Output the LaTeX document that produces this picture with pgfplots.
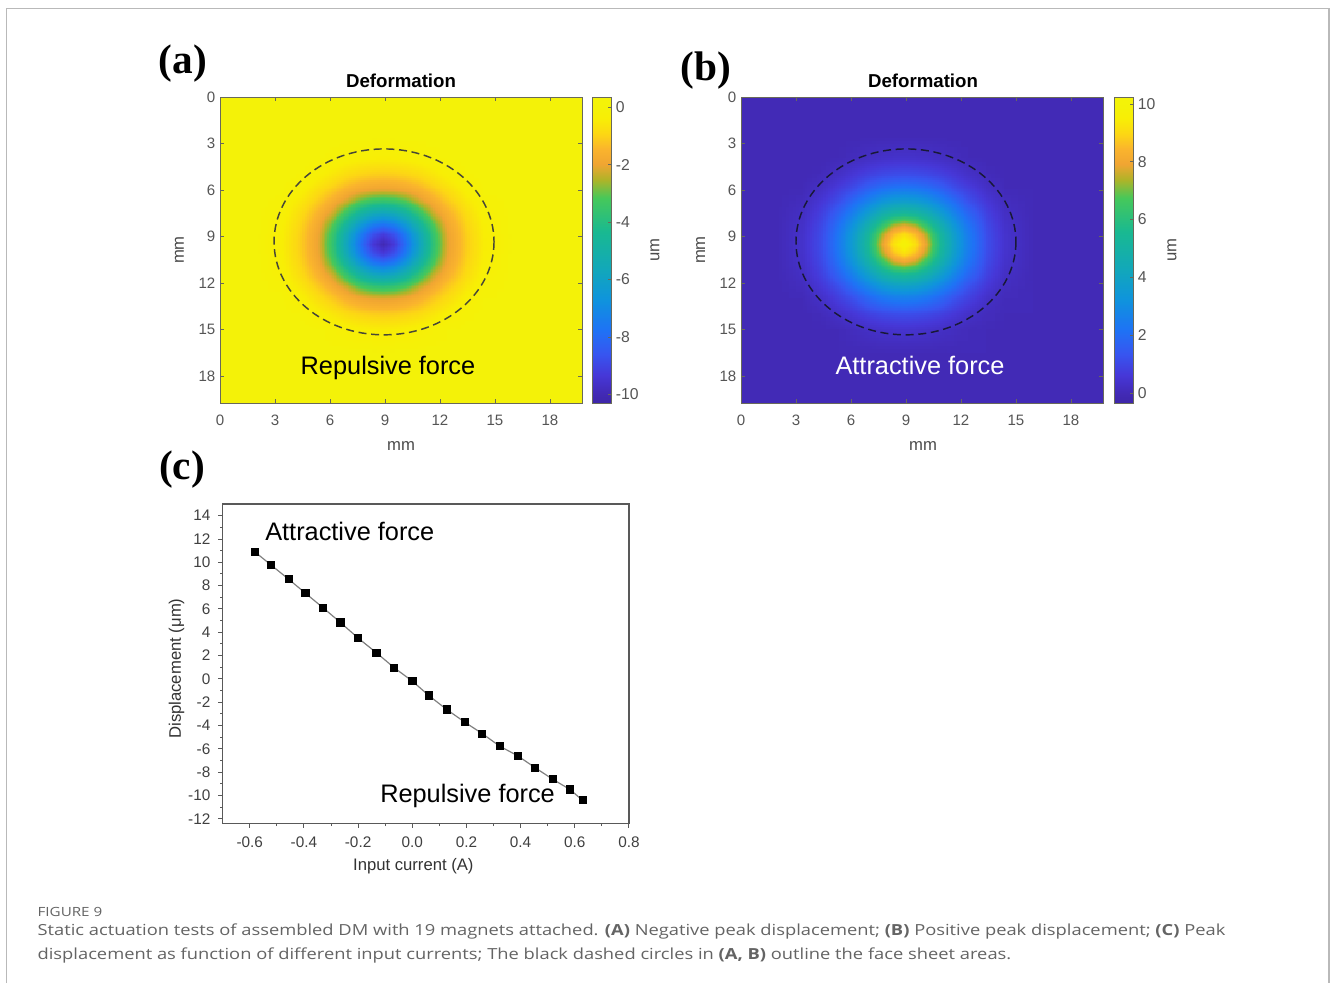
\documentclass[border=0pt]{standalone}
\usepackage{fontspec}
\setmainfont{Liberation Sans}
\newfontfamily\serifb{Liberation Serif}
\newfontfamily\capfont[FakeStretch=1.2]{Open Sans}
\usepackage{pgfplots}
\usepackage{pgfplotstable}
\usepgfplotslibrary{patchplots}
\pgfplotsset{compat=1.18, /pgf/number format/assume math mode=true}

\definecolor{bgA}{RGB}{244,242,8}
\definecolor{bgB}{RGB}{66,42,182}
\definecolor{tickgray}{RGB}{85,85,85}
\definecolor{labgray}{RGB}{75,75,75}
\definecolor{framegray}{RGB}{185,185,185}
\definecolor{capgray}{RGB}{100,100,100}
\definecolor{boxcol}{RGB}{105,105,90}
\definecolor{circA}{RGB}{70,70,55}
\definecolor{circB}{RGB}{25,25,55}

\pgfplotsset{
 colormap={myparula}{
  rgb255(0pt)=(62,38,168)
  rgb255(33pt)=(66,42,182)
  rgb255(90pt)=(70,55,215)
  rgb255(160pt)=(55,85,240)
  rgb255(240pt)=(30,115,245)
  rgb255(340pt)=(15,148,220)
  rgb255(440pt)=(18,168,185)
  rgb255(560pt)=(25,185,145)
  rgb255(670pt)=(70,200,90)
  rgb255(730pt)=(175,180,40)
  rgb255(780pt)=(240,165,50)
  rgb255(830pt)=(250,180,45)
  rgb255(880pt)=(252,215,20)
  rgb255(930pt)=(248,238,5)
  rgb255(967pt)=(244,242,8)
  rgb255(1000pt)=(244,244,8)
 },
 heat/.style={
  anchor=north west, scale only axis, width=271.5pt, height=229.5pt,
  xmin=0, xmax=19.75, ymin=0, ymax=19.75, y dir=reverse,
  xtick={0,3,...,18}, ytick={0,3,...,18},
  tick align=inside, major tick length=3pt,
  tick style={boxcol, line width=0.5pt},
  axis line style={boxcol, line width=0.6pt},
  ticklabel style={font=\fontsize{11.3}{13}\selectfont, text=tickgray},
  xticklabel style={yshift=-5.5pt},
  colormap name=myparula,
  axis on top,
  colorbar,
 },
 cbar/.style={
  at={(parent axis.north east)}, anchor=north west,
  scale only axis, width=14pt, height=229.5pt,
  tick align=inside, major tick length=2.5pt,
  ytick pos=right,
  tick style={boxcol, line width=0.5pt},
  axis line style={boxcol, line width=0.6pt},
  yticklabel style={font=\fontsize{11.8}{13}\selectfont, text=tickgray},
 }
}

\pgfplotstableread{
x y za zb
1.9 2.5 0 0
3.4 2.5 0 0
4.4 2.5 0 0
5.4 2.5 0 0
6.15 2.5 0 0
6.9 2.5 0 0
7.65 2.5 0 0
8.3 2.5 0 0
8.9 2.5 0 0
9.5 2.5 0 0
10.15 2.5 0 0
10.9 2.5 0 0
11.65 2.5 0 0
12.4 2.5 0 0
13.4 2.5 0 0
14.4 2.5 0 0
15.9 2.5 0 0
1.9 4 0 0
3.4 4 0 0
4.4 4 0 0
5.4 4 -0.05 0.05
6.15 4 -0.14 0.14
6.9 4 -0.25 0.25
7.65 4 -0.35 0.35
8.3 4 -0.40 0.40
8.9 4 -0.42 0.42
9.5 4 -0.40 0.40
10.15 4 -0.35 0.35
10.9 4 -0.25 0.25
11.65 4 -0.14 0.14
12.4 4 -0.05 0.05
13.4 4 0 0
14.4 4 0 0
15.9 4 0 0
1.9 5 0 0
3.4 5 0 0
4.4 5 -0.09 0.09
5.4 5 -0.32 0.32
6.15 5 -0.57 0.59
6.9 5 -0.81 0.84
7.65 5 -0.98 1.03
8.3 5 -1.07 1.12
8.9 5 -1.1 1.15
9.5 5 -1.07 1.12
10.15 5 -0.98 1.03
10.9 5 -0.81 0.84
11.65 5 -0.57 0.59
12.4 5 -0.32 0.32
13.4 5 -0.09 0.09
14.4 5 0 0
15.9 5 0 0
1.9 6 0 0
3.4 6 -0.05 0.05
4.4 6 -0.32 0.32
5.4 6 -0.79 0.82
6.15 6 -1.15 1.22
6.9 6 -1.57 1.78
7.65 6 -1.88 2.21
8.3 6 -2.05 2.43
8.9 6 -2.1 2.5
9.5 6 -2.05 2.43
10.15 6 -1.88 2.21
10.9 6 -1.57 1.78
11.65 6 -1.15 1.22
12.4 6 -0.79 0.82
13.4 6 -0.32 0.32
14.4 6 -0.05 0.05
15.9 6 0 0
1.9 6.75 0 0
3.4 6.75 -0.14 0.14
4.4 6.75 -0.57 0.59
5.4 6.75 -1.15 1.22
6.15 6.75 -1.71 1.98
6.9 6.75 -2.31 2.67
7.65 6.75 -3.12 3.33
8.3 6.75 -3.56 3.69
8.9 6.75 -3.7 3.8
9.5 6.75 -3.56 3.69
10.15 6.75 -3.12 3.33
10.9 6.75 -2.31 2.67
11.65 6.75 -1.71 1.98
12.4 6.75 -1.15 1.22
13.4 6.75 -0.57 0.59
14.4 6.75 -0.14 0.14
15.9 6.75 0 0
1.9 7.5 0 0
3.4 7.5 -0.25 0.25
4.4 7.5 -0.81 0.84
5.4 7.5 -1.57 1.78
6.15 7.5 -2.31 2.67
6.9 7.5 -3.53 3.66
7.65 7.5 -4.80 4.64
8.3 7.5 -5.55 5.21
8.9 7.5 -5.8 5.4
9.5 7.5 -5.55 5.21
10.15 7.5 -4.80 4.64
10.9 7.5 -3.53 3.66
11.65 7.5 -2.31 2.67
12.4 7.5 -1.57 1.78
13.4 7.5 -0.81 0.84
14.4 7.5 -0.25 0.25
15.9 7.5 0 0
1.9 8.25 0 0
3.4 8.25 -0.35 0.35
4.4 8.25 -0.98 1.03
5.4 8.25 -1.88 2.21
6.15 8.25 -3.12 3.33
6.9 8.25 -4.80 4.64
7.65 8.25 -6.42 6.11
8.3 8.25 -7.43 7.28
8.9 8.25 -7.8 7.7
9.5 8.25 -7.43 7.28
10.15 8.25 -6.42 6.11
10.9 8.25 -4.80 4.64
11.65 8.25 -3.12 3.33
12.4 8.25 -1.88 2.21
13.4 8.25 -0.98 1.03
14.4 8.25 -0.35 0.35
15.9 8.25 0 0
1.9 8.9 0 0
3.4 8.9 -0.40 0.40
4.4 8.9 -1.07 1.12
5.4 8.9 -2.05 2.43
6.15 8.9 -3.56 3.69
6.9 8.9 -5.55 5.21
7.65 8.9 -7.43 7.28
8.3 8.9 -8.73 8.63
8.9 8.9 -9.3 9.2
9.5 8.9 -8.73 8.63
10.15 8.9 -7.43 7.28
10.9 8.9 -5.55 5.21
11.65 8.9 -3.56 3.69
12.4 8.9 -2.05 2.43
13.4 8.9 -1.07 1.12
14.4 8.9 -0.40 0.40
15.9 8.9 0 0
1.9 9.5 0 0
3.4 9.5 -0.42 0.42
4.4 9.5 -1.1 1.15
5.4 9.5 -2.1 2.5
6.15 9.5 -3.7 3.8
6.9 9.5 -5.8 5.4
7.65 9.5 -7.8 7.7
8.3 9.5 -9.3 9.2
8.9 9.5 -10 9.8
9.5 9.5 -9.3 9.2
10.15 9.5 -7.8 7.7
10.9 9.5 -5.8 5.4
11.65 9.5 -3.7 3.8
12.4 9.5 -2.1 2.5
13.4 9.5 -1.1 1.15
14.4 9.5 -0.42 0.42
15.9 9.5 0 0
1.9 10.1 0 0
3.4 10.1 -0.40 0.40
4.4 10.1 -1.07 1.12
5.4 10.1 -2.05 2.43
6.15 10.1 -3.56 3.69
6.9 10.1 -5.55 5.21
7.65 10.1 -7.43 7.28
8.3 10.1 -8.73 8.63
8.9 10.1 -9.3 9.2
9.5 10.1 -8.73 8.63
10.15 10.1 -7.43 7.28
10.9 10.1 -5.55 5.21
11.65 10.1 -3.56 3.69
12.4 10.1 -2.05 2.43
13.4 10.1 -1.07 1.12
14.4 10.1 -0.40 0.40
15.9 10.1 0 0
1.9 10.75 0 0
3.4 10.75 -0.35 0.35
4.4 10.75 -0.98 1.03
5.4 10.75 -1.88 2.21
6.15 10.75 -3.12 3.33
6.9 10.75 -4.80 4.64
7.65 10.75 -6.42 6.11
8.3 10.75 -7.43 7.28
8.9 10.75 -7.8 7.7
9.5 10.75 -7.43 7.28
10.15 10.75 -6.42 6.11
10.9 10.75 -4.80 4.64
11.65 10.75 -3.12 3.33
12.4 10.75 -1.88 2.21
13.4 10.75 -0.98 1.03
14.4 10.75 -0.35 0.35
15.9 10.75 0 0
1.9 11.5 0 0
3.4 11.5 -0.25 0.25
4.4 11.5 -0.81 0.84
5.4 11.5 -1.57 1.78
6.15 11.5 -2.31 2.67
6.9 11.5 -3.53 3.66
7.65 11.5 -4.80 4.64
8.3 11.5 -5.55 5.21
8.9 11.5 -5.8 5.4
9.5 11.5 -5.55 5.21
10.15 11.5 -4.80 4.64
10.9 11.5 -3.53 3.66
11.65 11.5 -2.31 2.67
12.4 11.5 -1.57 1.78
13.4 11.5 -0.81 0.84
14.4 11.5 -0.25 0.25
15.9 11.5 0 0
1.9 12.25 0 0
3.4 12.25 -0.14 0.14
4.4 12.25 -0.57 0.59
5.4 12.25 -1.15 1.22
6.15 12.25 -1.71 1.98
6.9 12.25 -2.31 2.67
7.65 12.25 -3.12 3.33
8.3 12.25 -3.56 3.69
8.9 12.25 -3.7 3.8
9.5 12.25 -3.56 3.69
10.15 12.25 -3.12 3.33
10.9 12.25 -2.31 2.67
11.65 12.25 -1.71 1.98
12.4 12.25 -1.15 1.22
13.4 12.25 -0.57 0.59
14.4 12.25 -0.14 0.14
15.9 12.25 0 0
1.9 13 0 0
3.4 13 -0.05 0.05
4.4 13 -0.32 0.32
5.4 13 -0.79 0.82
6.15 13 -1.15 1.22
6.9 13 -1.57 1.78
7.65 13 -1.88 2.21
8.3 13 -2.05 2.43
8.9 13 -2.1 2.5
9.5 13 -2.05 2.43
10.15 13 -1.88 2.21
10.9 13 -1.57 1.78
11.65 13 -1.15 1.22
12.4 13 -0.79 0.82
13.4 13 -0.32 0.32
14.4 13 -0.05 0.05
15.9 13 0 0
1.9 14 0 0
3.4 14 0 0
4.4 14 -0.09 0.09
5.4 14 -0.32 0.32
6.15 14 -0.57 0.59
6.9 14 -0.81 0.84
7.65 14 -0.98 1.03
8.3 14 -1.07 1.12
8.9 14 -1.1 1.15
9.5 14 -1.07 1.12
10.15 14 -0.98 1.03
10.9 14 -0.81 0.84
11.65 14 -0.57 0.59
12.4 14 -0.32 0.32
13.4 14 -0.09 0.09
14.4 14 0 0
15.9 14 0 0
1.9 15 0 0
3.4 15 0 0
4.4 15 0 0
5.4 15 -0.05 0.05
6.15 15 -0.14 0.14
6.9 15 -0.25 0.25
7.65 15 -0.35 0.35
8.3 15 -0.40 0.40
8.9 15 -0.42 0.42
9.5 15 -0.40 0.40
10.15 15 -0.35 0.35
10.9 15 -0.25 0.25
11.65 15 -0.14 0.14
12.4 15 -0.05 0.05
13.4 15 0 0
14.4 15 0 0
15.9 15 0 0
1.9 16.5 0 0
3.4 16.5 0 0
4.4 16.5 0 0
5.4 16.5 0 0
6.15 16.5 0 0
6.9 16.5 0 0
7.65 16.5 0 0
8.3 16.5 0 0
8.9 16.5 0 0
9.5 16.5 0 0
10.15 16.5 0 0
10.9 16.5 0 0
11.65 16.5 0 0
12.4 16.5 0 0
13.4 16.5 0 0
14.4 16.5 0 0
15.9 16.5 0 0
}\heat

\pgfplotstableread{
x y
-0.582 10.91
-0.520 9.74
-0.456 8.54
-0.394 7.34
-0.330 6.11
-0.265 4.83
-0.199 3.48
-0.132 2.23
-0.066 0.94
0.001 -0.21
0.061 -1.43
0.127 -2.63
0.194 -3.72
0.259 -4.71
0.323 -5.78
0.389 -6.60
0.454 -7.63
0.518 -8.61
0.582 -9.49
0.629 -10.43
}\disp

\begin{document}
\begin{tikzpicture}
\useasboundingbox[fill=white] (0pt,0pt) rectangle (997.5pt,-737.25pt);
\draw[framegray, line width=1.1pt] (5pt,-737.25pt) -- (5pt,-6.2pt) -- (996.75pt,-6.2pt) -- (996.75pt,-737.25pt);

% ---------- (a)
\begin{axis}[heat, at={(165pt,-72.75pt)},
  axis background/.style={fill=bgA},
  point meta min=-10.3, point meta max=0.35,
  colorbar style={cbar, xshift=-0.75pt, ytick={-10,-8,-6,-4,-2,0}}]
\addplot[surf, shader=interp, patch type=bilinear, mesh/cols=17, point meta=\thisrow{za}] table[x=x, y=y] {\heat};
\draw[dash pattern=on 6pt off 3.5pt, line width=1.1pt, circA] (axis cs:8.95,9.35) ellipse [x radius=6, y radius=6];
\end{axis}

% ---------- (b)
\begin{axis}[heat, at={(555.75pt,-72.75pt)},
  axis background/.style={fill=bgB},
  point meta min=-0.35, point meta max=10.24,
  colorbar style={cbar, xshift=0pt, ytick={0,2,4,6,8,10}}]
\addplot[surf, shader=interp, patch type=bilinear, mesh/cols=17, point meta=\thisrow{zb}] table[x=x, y=y] {\heat};
\draw[dash pattern=on 6pt off 3.5pt, line width=1.1pt, circB] (axis cs:9.0,9.35) ellipse [x radius=6, y radius=6];
\end{axis}

% ---------- (c)
\begin{axis}[at={(167pt,-378pt)}, anchor=north west, scale only axis,
  width=304.7pt, height=239.5pt,
  xmin=-0.7, xmax=0.8, ymin=-12.4, ymax=15,
  xtick={-0.6,-0.4,-0.2,0,0.2,0.4,0.6,0.8},
  ytick={-12,-10,-8,-6,-4,-2,0,2,4,6,8,10,12,14},
  minor x tick num=1, minor y tick num=1,
  tick pos=left, tick align=outside,
  major tick length=3.2pt, minor tick length=2pt,
  axis line style={draw=black!65, line width=0.9pt},
  tick style={black!65, line width=0.7pt},
  ticklabel style={font=\fontsize{11.5}{13}\selectfont, text=black!75},
  xticklabel style={/pgf/number format/fixed, /pgf/number format/fixed zerofill, /pgf/number format/precision=1, yshift=-3.5pt},
  yticklabel style={xshift=-2.5pt}]
\addplot[color=black!50, line width=0.9pt, mark=square*, mark size=2.6pt, mark options={black, solid}] table[x=x, y=y] {\disp};
\end{axis}

% ---------- labels
\node[font=\serifb\bfseries\fontsize{31}{31}\selectfont] at (137.25pt,-48pt) {(a)};
\node[font=\serifb\bfseries\fontsize{31}{31}\selectfont] at (529.5pt,-53.25pt) {(b)};
\node[font=\serifb\bfseries\fontsize{31}{31}\selectfont] at (136.5pt,-352.5pt) {(c)};

\node[font=\bfseries\fontsize{14}{16}\selectfont] at (300.75pt,-60.75pt) {Deformation};
\node[font=\bfseries\fontsize{14}{16}\selectfont] at (692.25pt,-60.75pt) {Deformation};

\node[font=\fontsize{12.5}{14}\selectfont, text=labgray] at (300.75pt,-334.8pt) {mm};
\node[font=\fontsize{12.5}{14}\selectfont, text=labgray] at (692.25pt,-334.8pt) {mm};
\node[font=\fontsize{12.5}{14}\selectfont, text=labgray, rotate=90] at (134.5pt,-187.5pt) {mm};
\node[font=\fontsize{12.5}{14}\selectfont, text=labgray, rotate=90] at (525.5pt,-187.5pt) {mm};
\node[font=\fontsize{12.5}{14}\selectfont, text=labgray, rotate=90] at (491.25pt,-187.5pt) {um};
\node[font=\fontsize{12.5}{14}\selectfont, text=labgray, rotate=90] at (879pt,-187.5pt) {um};

\node[anchor=base, font=\fontsize{19}{22}\selectfont] at (291pt,-280.5pt) {Repulsive force};
\node[anchor=base, font=\fontsize{19}{22}\selectfont, text=white] at (690pt,-280.5pt) {Attractive force};
\node[anchor=base west, inner sep=0pt, font=\fontsize{19}{22}\selectfont] at (198.75pt,-405pt) {Attractive force};
\node[anchor=base west, inner sep=0pt, font=\fontsize{19}{22}\selectfont] at (285pt,-601.5pt) {Repulsive force};

\node[font=\fontsize{12.5}{14}\selectfont, text=black!80, rotate=90] at (132.4pt,-501.4pt) {Displacement (μm)};
\node[font=\fontsize{12.5}{14}\selectfont, text=black!80] at (310pt,-649.5pt) {Input current (A)};

% ---------- caption
\node[anchor=base west, inner sep=0pt, text=capgray, font=\capfont\fontsize{9.5}{11}\selectfont] at (28pt,-687.5pt) {FIGURE 9};
\node[anchor=base west, inner sep=0pt, text=capgray, font=\capfont\fontsize{11.45}{13}\selectfont] at (28pt,-701.5pt) {Static actuation tests of assembled DM with 19 magnets attached. \textbf{(A)} Negative peak displacement; \textbf{(B)} Positive peak displacement; \textbf{(C)} Peak};
\node[anchor=base west, inner sep=0pt, text=capgray, font=\capfont\fontsize{11.45}{13}\selectfont] at (28pt,-719.6pt) {displacement as function of different input currents; The black dashed circles in \textbf{(A, B)} outline the face sheet areas.};
\end{tikzpicture}
\end{document}
